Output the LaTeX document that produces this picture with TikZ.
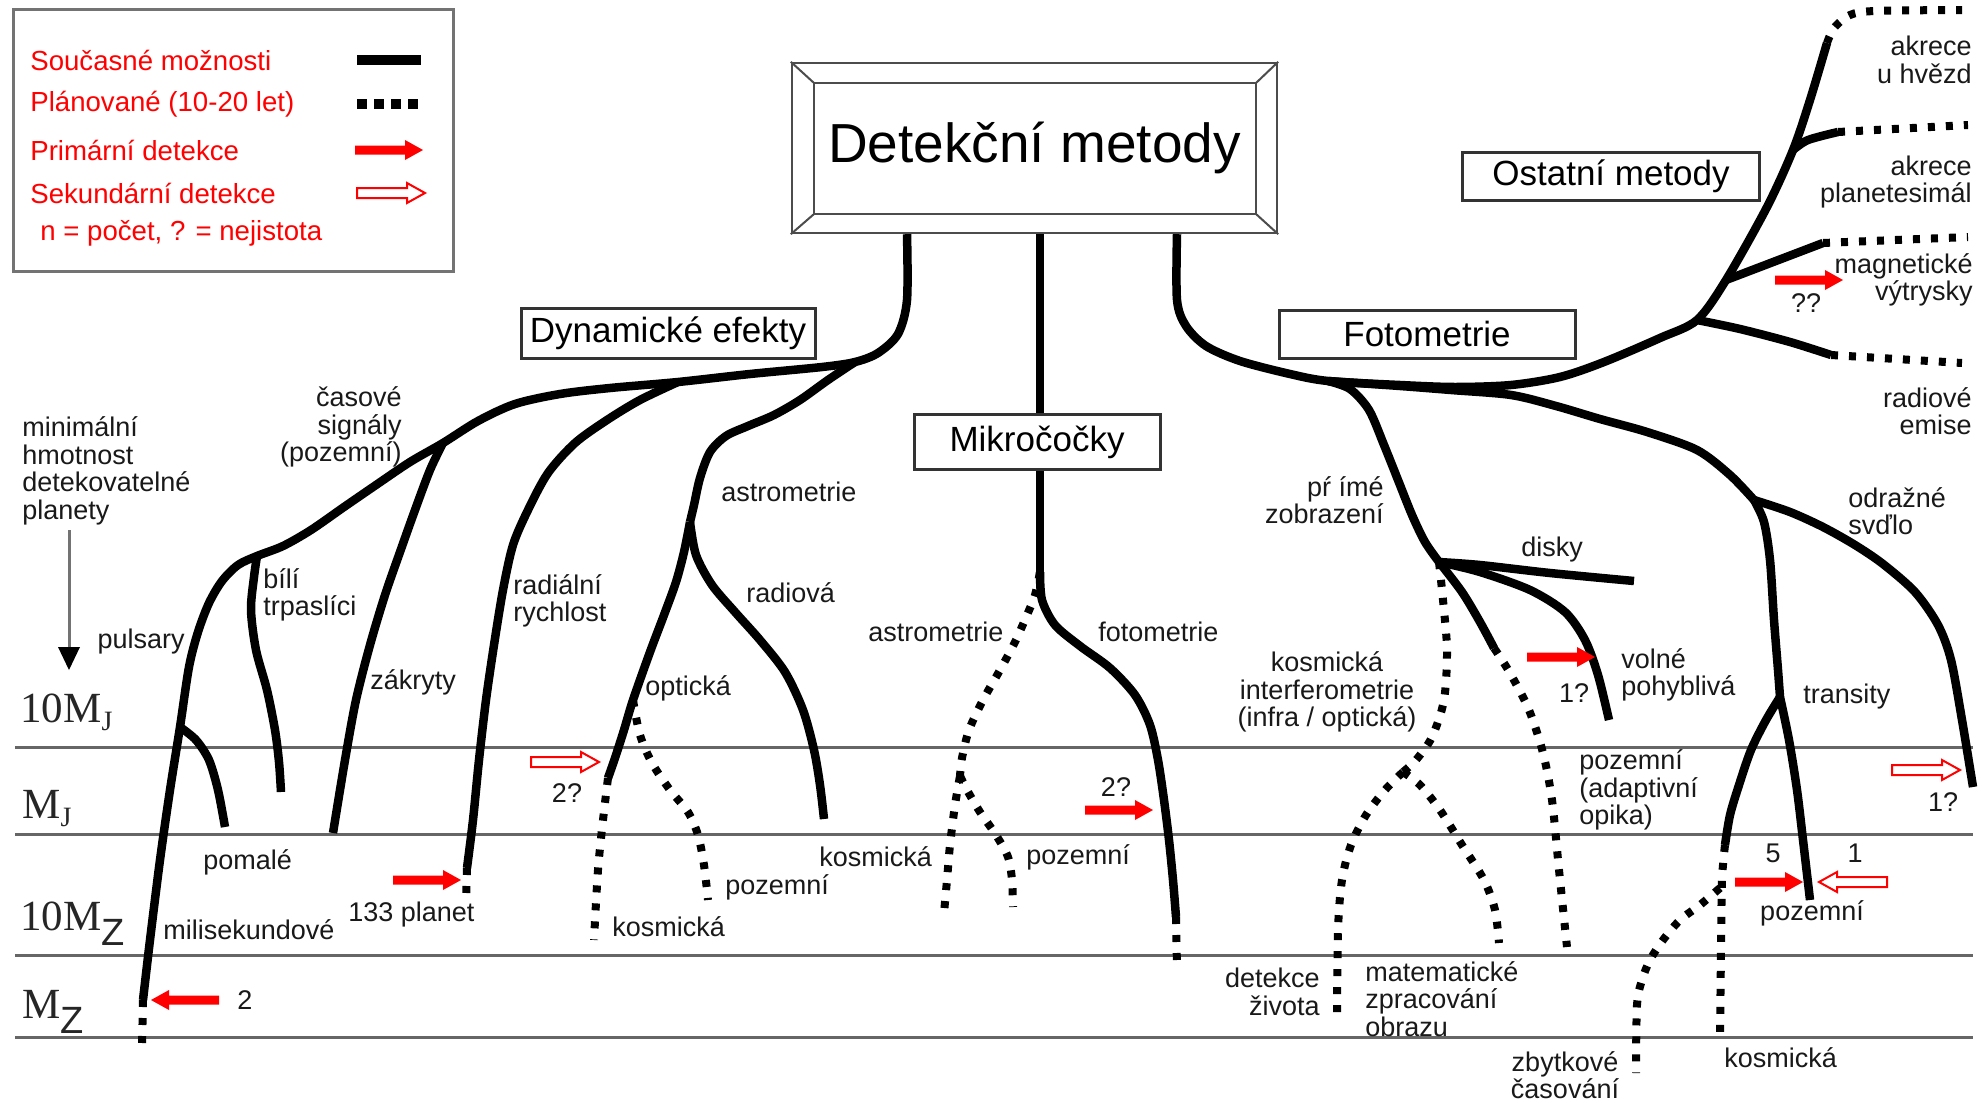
\documentclass[tikz,border=0pt]{standalone}
\usepackage{fontspec}
\setmainfont{Liberation Sans}
\newfontfamily\serifL{Liberation Serif}
\newfontfamily\sansL{Liberation Sans}
\begin{document}
\begin{tikzpicture}[x=0.5pt,y=-0.5pt,
  tree/.style={line width=4.25pt, line join=round},
  plan/.style={line width=4pt, dash pattern=on 3.5pt off 5.5pt},
  axisline/.style={draw=black!60, line width=1.5pt},
  lab/.style={font=\fontsize{13.5}{13.8}\selectfont, inner sep=0pt, text=black!90},
  catbox/.style={draw=black!80, line width=1.5pt, fill=white, font=\fontsize{17.5}{18}\selectfont, inner sep=0pt},
  legtxt/.style={font=\fontsize{13.8}{14}\selectfont, text=red, inner sep=0pt, anchor=west},
  axlab/.style={font=\serifL\fontsize{21.5}{22}\selectfont, inner sep=0pt, anchor=base west, text=black!85},
  redR/.pic={\fill[red] (0,-4.5) -- (50,-4.5) -- (50,-10) -- (68,0) -- (50,10) -- (50,4.5) -- (0,4.5) -- cycle;},
  redL/.pic={\fill[red] (0,-4.5) -- (-50,-4.5) -- (-50,-10) -- (-68,0) -- (-50,10) -- (-50,4.5) -- (0,4.5) -- cycle;},
  holR/.pic={\draw[red, line width=1pt, fill=white] (0,-5) -- (50,-5) -- (50,-10) -- (68,0) -- (50,10) -- (50,5) -- (0,5) -- cycle;},
  holL/.pic={\draw[red, line width=1pt, fill=white] (0,-5) -- (-50,-5) -- (-50,-10) -- (-68,0) -- (-50,10) -- (-50,5) -- (0,5) -- cycle;}
]
\useasboundingbox (0,0) rectangle (1982,1103);
\fill[white] (0,0) rectangle (1982,1103);

% horizontal mass lines
\foreach \yy in {747,834,955,1037} \draw[axisline] (15,\yy) -- (1973,\yy);

% axis labels
\node[axlab] (a1) at (20,722) {10M\raisebox{-4pt}{\fontsize{14}{14}\selectfont J}};
\node[axlab] (a2) at (22,818) {M\raisebox{-4pt}{\fontsize{14}{14}\selectfont J}};
\node[axlab] (a3) at (20,930) {10M\raisebox{-7.5pt}{\sansL\fontsize{19}{19}\selectfont Z}};
\node[axlab] (a4) at (22,1018) {M\raisebox{-7.5pt}{\sansL\fontsize{19}{19}\selectfont Z}};

% legend
\node[draw=black!55, line width=1.5pt, minimum width=220pt, minimum height=131pt, inner sep=0pt] (legend) at (233,140) {};
\node[legtxt] (l1) at (30,60) {Současné možnosti};
\node[legtxt] (l2) at (30,104) {Plánované (10-20 let)};
\node[legtxt] (l3) at (30,150) {Primární detekce};
\node[legtxt] (l4) at (30,193) {Sekundární detekce};
\node[legtxt] (l5) at (40,233) {n = počet, ? = nejistota};
\coordinate (lg1a) at (357,60); \coordinate (lg1b) at (421,60);
\coordinate (lg2a) at (357,104); \coordinate (lg2b) at (423,104);
\draw[line width=5pt] (lg1a) -- (lg1b);
\draw[line width=5pt, dash pattern=on 5pt off 3.5pt] (lg2a) -- (lg2b);
\pic at (355,150) {redR};
\pic at (357,193) {holR};

% title
\node[draw=black!70, line width=1.2pt, fill=white, minimum width=242.5pt, minimum height=85pt, inner sep=0pt, font=\fontsize{27.5}{28}\selectfont] (title) at (1034.5,148) {Detekční metody};
\draw[black!70, line width=1.2pt] ([shift={(23,21)}]title.north west) rectangle ([shift={(-22,-20)}]title.south east);
\draw[black!70, line width=1pt] (title.north west) -- ([shift={(23,21)}]title.north west);
\draw[black!70, line width=1pt] (title.north east) -- ([shift={(-22,21)}]title.north east);
\draw[black!70, line width=1pt] (title.south west) -- ([shift={(23,-20)}]title.south west);
\draw[black!70, line width=1pt] (title.south east) -- ([shift={(-22,-20)}]title.south east);

% category boxes
\node[catbox, minimum width=147pt, minimum height=25pt] (dyn) at (668,333) {Dynamické efekty};
\node[catbox, minimum width=148pt, minimum height=24pt] (foto) at (1427,334) {Fotometrie};
\node[catbox, minimum width=148.5pt, minimum height=24pt] (ost) at (1611,176) {Ostatní metody};
\node[catbox, minimum width=123pt, minimum height=27.5pt] (micro) at (1037,442) {Mikročočky};

% key coordinates
\coordinate (s1) at (907,0 |- title.south);
\coordinate (s2) at (1040,0 |- title.south);
\coordinate (s3) at (1177,0 |- title.south);
\coordinate (J1) at (855,362);
\coordinate (C1) at (443,443);
\coordinate (B1) at (257,556);
\coordinate (P1) at (180,727);
\coordinate (ps) at (143,1000);
\coordinate (ps2) at (142,1048);
\coordinate (bw) at (281,792);
\coordinate (pm) at (225,827);
\coordinate (zk) at (333,833);
\coordinate (ra0) at (678,382);
\coordinate (ra1) at (467,868);
\coordinate (rd) at (466,903);
\coordinate (S1) at (690,522);
\coordinate (op1) at (608,778);
\coordinate (op2) at (594,940);
\coordinate (pz0) at (633,700);
\coordinate (pz1) at (708,900);
\coordinate (rv) at (824,819);
\coordinate (M1) at (1040,572);
\coordinate (fm1) at (1176,917);
\coordinate (fm2) at (1177,968);
\coordinate (M2) at (960,776);
\coordinate (am1) at (944,913);
\coordinate (am2) at (1013,907);
\coordinate (F1) at (1328,381);
\coordinate (R1) at (1697,320);
\coordinate (Mg) at (1726,280);
\coordinate (Pl) at (1793,150);
\coordinate (ot1) at (1827,43);
\coordinate (ot2) at (1962,10);
\coordinate (pl1) at (1838,132);
\coordinate (pl2) at (1968,125);
\coordinate (mg1) at (1823,243);
\coordinate (mg2) at (1968,237);
\coordinate (re1) at (1831,355);
\coordinate (re2) at (1962,363);
\coordinate (OR1) at (1754,500);
\coordinate (od1) at (1973,787);
\coordinate (TR1) at (1780,697);
\coordinate (tr1) at (1810,900);
\coordinate (tr2) at (1725,845);
\coordinate (tr3) at (1720,1037);
\coordinate (zb0) at (1720,888);
\coordinate (zb1) at (1636,1073);
\coordinate (D1) at (1439,562);
\coordinate (dk) at (1634,581);
\coordinate (vp) at (1609,720);
\coordinate (ad1) at (1494,648);
\coordinate (ad2) at (1567,947);
\coordinate (K1) at (1403,772);
\coordinate (ki1) at (1337,1023);
\coordinate (ki2) at (1499,943);

% ---- Dynamic effects tree
\draw[tree] plot[smooth, tension=0.5] coordinates {(s1) (907,300) (898,334) (878,353) (J1) (822,367) (750,374) (ra0) (610,388) (560,394) (515,404) (478,421) (C1) (410,462) (376,485) (344,507) (311,530) (283,546) (B1) (238,565) (222,581) (209,603) (198,632) (189,667) (P1) (170,790) (160,860) (150,940) (ps)};
\draw[plan] (ps) -- (ps2);
\draw[tree] plot[smooth, tension=0.5] coordinates {(B1) (254,577) (251,610) (256,650) (267,690) (275,730) (279,762) (bw)};
\draw[tree] plot[smooth, tension=0.5] coordinates {(P1) (196,740) (209,760) (218,790) (pm)};
\draw[tree] plot[smooth, tension=0.5] coordinates {(C1) (430,470) (415,510) (400,552) (385,595) (370,645) (356,700) (345,760) (zk)};
\draw[tree] plot[smooth, tension=0.5] coordinates {(ra0) (640,400) (607,420) (575,443) (548,473) (528,510) (513,545) (503,590) (494,645) (486,700) (479,760) (473,820) (ra1)};
\draw[plan] (ra1) -- (rd);
\draw[tree] plot[smooth, tension=0.5] coordinates {(J1) (828,380) (800,400) (774,415) (748,426) (726,436) (710,452) (700,478) (694,505) (S1)};
\draw[tree] plot[smooth, tension=0.5] coordinates {(S1) (684,552) (676,582) (664,615) (650,652) (pz0) (624,730) (615,758) (op1)};
\draw[plan] plot[smooth, tension=0.5] coordinates {(op1) (603,820) (598,870) (op2)};
\draw[plan] plot[smooth, tension=0.5] coordinates {(pz0) (640,735) (652,763) (670,790) (688,812) (698,835) (704,865) (pz1)};
\draw[tree] plot[smooth, tension=0.5] coordinates {(S1) (696,555) (712,585) (735,612) (760,640) (785,672) (803,710) (814,750) (820,785) (rv)};

% ---- Microlensing
\draw[tree] (s2) -- (1040,0 |- micro.north);
\draw[tree] (1040,0 |- micro.south) -- (M1);
\draw[tree] plot[smooth, tension=0.5] coordinates {(M1) (1042,600) (1055,625) (1080,646) (1110,668) (1135,695) (1150,725) (1158,760) (1164,800) (1169,840) (1173,880) (fm1)};
\draw[plan] (fm1) -- (fm2);
\draw[plan] plot[smooth, tension=0.5] coordinates {(M1) (1035,595) (1027,615) (1015,642) (1000,670) (983,700) (969,730) (962,758) (M2)};
\draw[plan] plot[smooth, tension=0.5] coordinates {(M2) (955,805) (950,845) (947,880) (am1)};
\draw[plan] plot[smooth, tension=0.5] coordinates {(M2) (967,790) (980,812) (996,835) (1008,857) (1012,880) (am2)};

% ---- Photometry / other methods
\draw[tree] plot[smooth, tension=0.5] coordinates {(s3) (1177,300) (1186,326) (1206,346) (1240,361) (1290,374) (F1) (1400,385) (1455,387) (1511,385) (1560,377) (1604,362) (1660,338) (R1) (Mg) (1767,207) (Pl) (1810,100) (ot1)};
\draw[plan] plot[smooth, tension=0.5] coordinates {(ot1) (1834,28) (1850,15) (1875,11) (ot2)};
\draw[tree] plot[smooth, tension=0.5] coordinates {(Pl) (1808,140) (pl1)};
\draw[plan] (pl1) -- (pl2);
\draw[tree] (Mg) -- (mg1);
\draw[plan] (mg1) -- (mg2);
\draw[tree] plot[smooth, tension=0.5] coordinates {(R1) (1740,329) (1790,342) (re1)};
\draw[plan] (re1) -- (re2);

\draw[tree] plot[smooth, tension=0.5] coordinates {(F1) (1400,386) (1451,390) (1511,395) (1556,406) (1600,419) (1647,432) (1697,450) (1730,475) (OR1)};
\draw[tree] plot[smooth, tension=0.5] coordinates {(OR1) (1790,512) (1823,527) (1855,545) (1883,564) (1915,592) (1938,625) (1951,660) (1962,720) (od1)};
\draw[tree] plot[smooth, tension=0.5] coordinates {(OR1) (1764,522) (1770,560) (1774,620) (1778,670) (TR1)};
\draw[tree] plot[smooth, tension=0.5] coordinates {(TR1) (1789,740) (1797,790) (1803,840) (tr1)};
\draw[tree] plot[smooth, tension=0.5] coordinates {(TR1) (1766,720) (1751,750) (1739,785) (1730,815) (tr2)};
\draw[plan] plot[smooth, tension=0.5] coordinates {(tr2) (1722,880) (1721,950) (tr3)};
\draw[plan] plot[smooth, tension=0.5] coordinates {(zb0) (1700,905) (1680,920) (1663,940) (1650,960) (1642,980) (1637,1005) (zb1)};

\draw[tree] plot[smooth, tension=0.5] coordinates {(F1) (1350,389) (1369,410) (1384,445) (1398,480) (1412,515) (1425,542) (D1)};
\draw[tree] plot[smooth, tension=0.5] coordinates {(D1) (1480,565) (1550,573) (dk)};
\draw[tree] plot[smooth, tension=0.5] coordinates {(D1) (1480,572) (1530,590) (1565,612) (1585,640) (1598,675) (vp)};
\draw[tree] plot[smooth, tension=0.5] coordinates {(D1) (1462,592) (1480,622) (ad1)};
\draw[plan] plot[smooth, tension=0.5] coordinates {(ad1) (1510,673) (1529,710) (1543,753) (1552,800) (1559,870) (ad2)};
\draw[plan] plot[smooth, tension=0.5] coordinates {(D1) (1443,600) (1447,650) (1444,700) (1432,737) (1416,760) (K1)};
\draw[plan] plot[smooth, tension=0.5] coordinates {(K1) (1385,790) (1366,815) (1351,845) (1342,880) (1338,930) (ki1)};
\draw[plan] plot[smooth, tension=0.5] coordinates {(K1) (1420,785) (1440,810) (1462,845) (1484,880) (1495,910) (ki2)};

% ---- arrows
\pic at (219,1000) {redL};
\pic at (393,880) {redR};
\pic at (531,762) {holR};
\pic at (1085,810) {redR};
\pic at (1775,280) {redR};
\pic at (1527,657) {redR};
\pic at (1735,882) {redR};
\pic at (1887,882) {holL};
\pic at (1892,770) {holR};

% vertical axis arrow
\coordinate (va0) at (69,530);
\coordinate (va1) at (69,670);
\draw[black!55, line width=1.5pt] (va0) -- (69,650);
\fill[black] (58,647) -- (80,647) -- (va1) -- cycle;

% ---- labels
\node[lab, anchor=west, align=left] (t1) at (22,471) {minimální\\hmotnost\\detekovatelné\\planety};
\node[lab, anchor=east] (t2) at (185,642) {pulsary};
\node[lab, anchor=west, align=left] (t3) at (263,595) {bílí\\trpaslíci};
\node[lab, anchor=east, align=right] (t4) at (402,427) {časové\\signály\\(pozemní)};
\node[lab, anchor=west] (t5) at (370,682) {zákryty};
\node[lab, anchor=west] (t6) at (203,862) {pomalé};
\node[lab, anchor=west] (t7) at (163,930) {milisekundové};
\node[lab, anchor=west] (t8) at (348,915) {133 planet};
\node[lab, anchor=west] (t9) at (237,1000) {2};
\node[lab, anchor=west, align=left] (t10) at (513,601) {radiální\\rychlost};
\node[lab, anchor=west] (t11) at (721,492) {astrometrie};
\node[lab, anchor=west] (t12) at (746,593) {radiová};
\node[lab, anchor=west] (t13) at (645,688) {optická};
\node[lab] (t14) at (567,793) {2?};
\node[lab, anchor=west] (t15) at (612,927) {kosmická};
\node[lab, anchor=west] (t16) at (725,887) {pozemní};
\node[lab, anchor=west] (t17) at (819,857) {kosmická};
\node[lab, anchor=west] (t18) at (868,632) {astrometrie};
\node[lab, anchor=west] (t19) at (1098,632) {fotometrie};
\node[lab, anchor=west] (t20) at (1026,857) {pozemní};
\node[lab] (t21) at (1116,787) {2?};
\node[lab, anchor=east, align=right] (t22) at (1384,500) {pŕ ímé\\zobrazení};
\node[lab, anchor=west] (t23) at (1521,550) {disky};
\node[lab, align=center] (t24) at (1327,692) {kosmická\\interferometrie\\(infra / optická)};
\node[lab, anchor=west, align=left] (t25) at (1621,675) {volné\\pohyblivá};
\node[lab] (t26) at (1574,693) {1?};
\node[lab, anchor=west, align=left] (t27) at (1579,790) {pozemní\\(adaptivní\\opika)};
\node[lab, anchor=east, align=right] (t28) at (1320,992) {detekce\\života};
\node[lab, anchor=west, align=left] (t29) at (1365,999) {matematické\\zpracování\\obrazu};
\node[lab, align=center] (t30) at (1565,1075) {zbytkové\\časování};
\node[lab, anchor=west] (t31) at (1724,1058) {kosmická};
\node[lab] (t32) at (1812,913) {pozemní};
\node[lab] (t33) at (1773,853) {5};
\node[lab] (t34) at (1855,853) {1};
\node[lab, anchor=west] (t35) at (1803,697) {transity};
\node[lab, anchor=west, align=left] (t36) at (1848,511) {odražné\\svďlo};
\node[lab] (t37) at (1943,802) {1?};
\node[lab, anchor=east, align=right] (t38) at (1972,60) {akrece\\u hvězd};
\node[lab, anchor=east, align=right] (t39) at (1972,182) {akrece\\planetesimál};
\node[lab, anchor=east, align=right] (t40) at (1973,280) {magnetické\\výtrysky};
\node[lab] (t41) at (1806,303) {??};
\node[lab, anchor=east, align=right] (t42) at (1972,411) {radiové\\emise};
\end{tikzpicture}
\end{document}
